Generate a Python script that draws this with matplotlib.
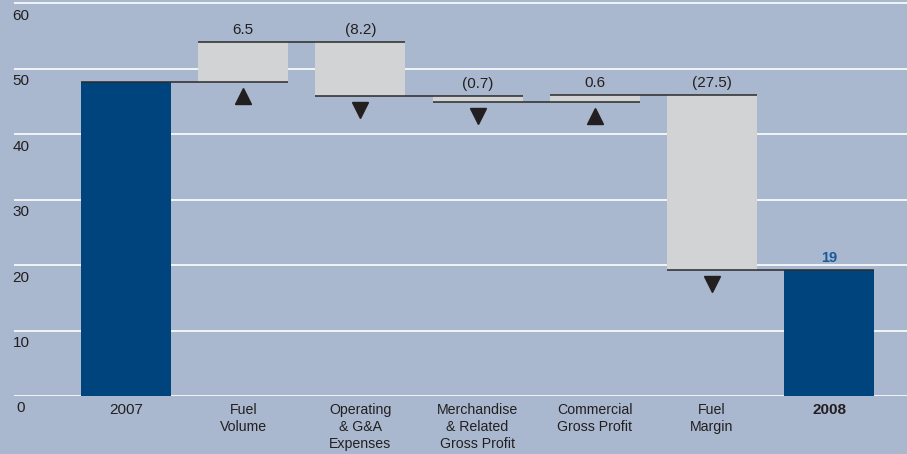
import matplotlib
matplotlib.use("Agg")
import matplotlib.pyplot as plt
from matplotlib import transforms

plt.rcParams['font.family'] = ['Liberation Sans', 'DejaVu Sans']

categories = ['2007', 'Fuel\nVolume', 'Operating\n& G&A\nExpenses',
              'Merchandise\n& Related\nGross Profit', 'Commercial\nGross Profit',
              'Fuel\nMargin', '2008']
# bar heights as drawn in the picture
start_value = 48.0
changes = [6.1, -8.3, -0.95, 1.1, -26.75]
end_value = 19.2
# printed labels
change_labels = ['6.5', '(8.2)', '(0.7)', '0.6', '(27.5)']
end_label = '19'
yticks = [0, 10, 20, 30, 40, 50, 60]

BG = '#a9b8cf'
DARK = '#00447e'
GRAY = '#d1d3d5'
TXT = '#231f20'
LINE = '#2a2a2a'

fig = plt.figure(figsize=(9.07, 4.54), dpi=100)
fig.patch.set_facecolor(BG)
ax = fig.add_axes([14/907, 58/454, 1 - 14/907, 396/454])
ax.set_facecolor(BG)
ax.set_xlim(-0.9556, 6.664)
ax.set_ylim(0, 60.46)
for s in ax.spines.values():
    s.set_visible(False)

for t in yticks:
    ax.axhline(t, color='white', lw=1.2, zorder=1)

w = 0.768
n = len(categories)
xs = list(range(n))

ax.bar(0, start_value, width=w, color=DARK, zorder=2)
levels = [start_value]
level = start_value
tri_tr = transforms.offset_copy(ax.transData, fig=fig, x=0, y=-14, units='dots')
lab_tr = transforms.offset_copy(ax.transData, fig=fig, x=0, y=12, units='dots')
for i, (c, lab) in enumerate(zip(changes, change_labels), start=1):
    new = level + c
    lo, hi = min(level, new), max(level, new)
    ax.bar(i, hi - lo, bottom=lo, width=w, color=GRAY, zorder=2)
    ax.plot([i], [lo], marker='^' if c > 0 else 'v', color=TXT, markersize=11,
            transform=tri_tr, zorder=4, linestyle='none')
    ax.text(i, hi, lab, transform=lab_tr, ha='center', va='center',
            fontsize=11, color=TXT, zorder=4)
    level = new
    levels.append(level)

ax.bar(n - 1, end_value, width=w, color=DARK, zorder=2)
ax.text(n - 1, end_value, end_label, transform=lab_tr, ha='center', va='center',
        fontsize=10.5, color='#1a5a9a', fontweight='bold', zorder=4)
levels[-1] = end_value

for i, lv in enumerate(levels):
    ax.plot([i - w/2, i + 1 + w/2], [lv, lv], color=LINE, lw=1.1, zorder=3,
            solid_capstyle='butt')

ax.set_xticks(xs)
ax.set_xticklabels(categories, fontsize=10.2, color=TXT, linespacing=1.28)
ax.tick_params(axis='x', length=0, pad=5)
ax.tick_params(axis='y', left=False, labelleft=False)
tl = ax.get_xticklabels()
tl[0].set_fontsize(11)
tl[-1].set_fontsize(11)
tl[-1].set_fontweight('bold')

ylab_tr = transforms.offset_copy(
    transforms.blended_transform_factory(fig.transFigure, ax.transData),
    fig=fig, x=0, y=-12.5, units='dots')
for t in yticks:
    ax.text(21/907, t, str(t), transform=ylab_tr, ha='center', va='center',
            fontsize=11, color=TXT, clip_on=False)

fig.savefig('out.png', dpi=100, facecolor=BG)
